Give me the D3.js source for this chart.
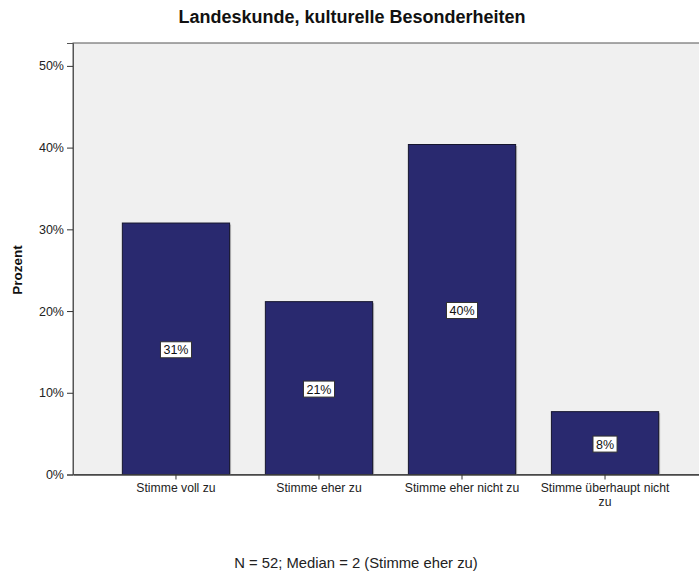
<!DOCTYPE html>
<html>
<head>
<meta charset="utf-8">
<script src="https://cdn.jsdelivr.net/npm/d3@7"></script>
<style>
  body { margin: 0; background: #fff; }
  svg { display: block; font-family: Arial, "Liberation Sans", sans-serif; }
</style>
</head>
<body>
<svg id="chart" width="699" height="573"></svg>
<script>
const categories = ["Stimme voll zu", "Stimme eher zu", "Stimme eher nicht zu", "Stimme überhaupt nicht zu"];
const values = [30.77, 21.15, 40.38, 7.69];
const valueLabels = ["31%", "21%", "40%", "8%"];
const yTicks = [0, 10, 20, 30, 40, 50];
const titleText = "Landeskunde, kulturelle Besonderheiten";
const yTitle = "Prozent";
const footnote = "N = 52; Median = 2 (Stimme eher zu)";

const svg = d3.select("#chart");
const W = 699, H = 573;
const plot = { left: 73, top: 43, right: 708, bottom: 474.5 };
const FONT = "Arial, 'Liberation Sans', sans-serif";

const y = d3.scaleLinear().domain([0, 52.8]).range([plot.bottom, plot.top]);
const x = d3.scaleBand().domain(categories).range([plot.left, plot.right])
  .paddingInner(0.25).paddingOuter(0.345);

// background
svg.append("rect").attr("x", plot.left).attr("y", plot.top)
  .attr("width", plot.right - plot.left).attr("height", plot.bottom - plot.top)
  .attr("fill", "#f0f0f0").attr("stroke", "#555").attr("stroke-width", 1);

// title
svg.append("text").attr("x", 352).attr("y", 23).attr("text-anchor", "middle")
  .attr("font-weight", "bold").attr("font-size", 18).attr("fill", "#111").text(titleText);

// bars
const g = svg.append("g");
g.selectAll("rect.shadow").data(values).enter().append("rect")
  .attr("x", (d, i) => x(categories[i]) + 1.5)
  .attr("y", d => y(d) + 1.5)
  .attr("width", x.bandwidth())
  .attr("height", d => plot.bottom - y(d) - 1.5)
  .attr("fill", "#b8b8b8");
g.selectAll("rect.bar").data(values).enter().append("rect")
  .attr("x", (d, i) => x(categories[i]))
  .attr("y", d => y(d))
  .attr("width", x.bandwidth())
  .attr("height", d => plot.bottom - y(d))
  .attr("fill", "#29296f").attr("stroke", "#15152e").attr("stroke-width", 1);

// value labels
values.forEach((v, i) => {
  const cx = x(categories[i]) + x.bandwidth() / 2;
  const cy = (y(v) + plot.bottom) / 2 + 1;
  const t = svg.append("text").attr("x", cx).attr("y", cy + 4.5)
    .attr("text-anchor", "middle").attr("font-size", 12.5).attr("fill", "#111").text(valueLabels[i]);
  const bb = t.node().getBBox();
  svg.insert("rect", () => t.node())
    .attr("x", cx - bb.width / 2 - 3).attr("y", cy - 8)
    .attr("width", bb.width + 6).attr("height", 16)
    .attr("fill", "#fff").attr("stroke", "#333").attr("stroke-width", 1);
});

// y axis
const yAxis = d3.axisLeft(y).tickValues(yTicks).tickFormat(d => d + "%").tickSize(6).tickPadding(3);
const ya = svg.append("g").attr("transform", `translate(${plot.left},0)`).call(yAxis);
ya.select(".domain").attr("stroke", "#555");
ya.selectAll(".tick line").attr("stroke", "#333");
ya.selectAll("text").attr("font-size", 12.5).attr("fill", "#222").attr("font-family", FONT);

// x axis
const xAxis = d3.axisBottom(x).tickSize(5).tickPadding(4).tickSizeOuter(0);
const xa = svg.append("g").attr("transform", `translate(0,${plot.bottom})`).call(xAxis);
xa.select(".domain").attr("stroke", "#444").attr("stroke-width", 1.5);
xa.selectAll(".tick line").attr("stroke", "#333");
xa.selectAll("text").attr("font-size", 12.2).attr("fill", "#222").attr("font-family", FONT)
  .each(function(d) {
    const el = d3.select(this);
    if (d === "Stimme überhaupt nicht zu") {
      el.text(null);
      el.append("tspan").attr("x", 0).attr("dy", "0.71em").text("Stimme überhaupt nicht");
      el.append("tspan").attr("x", 0).attr("dy", "1.1em").text("zu");
      el.attr("dy", null);
    }
  });

// y title
svg.append("text").attr("transform", `translate(22,270) rotate(-90)`).attr("text-anchor", "middle")
  .attr("font-weight", "bold").attr("font-size", 13.5).attr("fill", "#111").text(yTitle);

// footnote
svg.append("text").attr("x", 356).attr("y", 568).attr("text-anchor", "middle")
  .attr("font-size", 14.8).attr("fill", "#222").text(footnote);
</script>
</body>
</html>
